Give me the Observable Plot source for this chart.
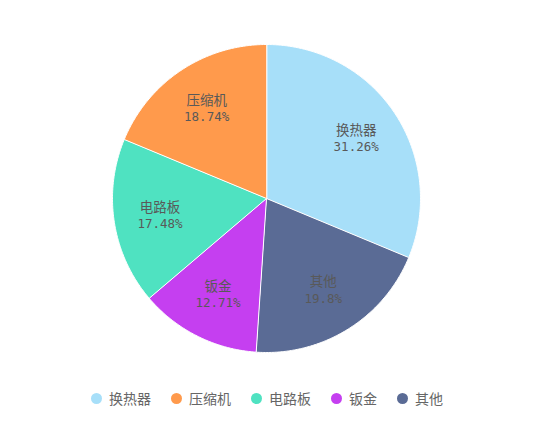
<!DOCTYPE html>
<html><head><meta charset="utf-8">
<script src="https://cdn.jsdelivr.net/npm/d3@7"></script>
<script src="https://cdn.jsdelivr.net/npm/@observablehq/plot@0.6"></script>
<style>
body{margin:0;background:#fff;font-family:"Noto Sans CJK SC",sans-serif;}
#legend{display:flex;justify-content:center;align-items:center;height:36px;margin-top:0px;font-size:14px;color:#666;}
.item{display:flex;align-items:center;margin:0 10px;}
.sw{width:11px;height:11px;border-radius:50%;margin-right:7px;}
</style>
</head><body>
<div id="chart"></div>
<div id="legend"></div>
<script>
const categories = ["换热器", "压缩机", "电路板", "钣金", "其他"];
const values = [31.26, 18.74, 17.48, 12.71, 19.8];
const labels = ["31.26%", "18.74%", "17.48%", "12.71%", "19.8%"];
const colors = ["#a7dff9", "#ff9a4c", "#4fe2c1", "#c53ff0", "#5a6b95"];
// clockwise drawing order from 12 o'clock
const drawOrder = ["换热器", "其他", "钣金", "电路板", "压缩机"];

const rows = drawOrder.map(c => {const i = categories.indexOf(c); return {cat: c, value: values[i], label: labels[i]};});
const total = d3.sum(rows, d => d.value);
let acc = 0;
const slices = rows.map(d => {
  const a0 = acc / total * 2 * Math.PI; acc += d.value;
  const a1 = acc / total * 2 * Math.PI;
  const n = Math.max(2, Math.ceil((a1 - a0) / 0.01));
  const ring = [[0, 0]];
  for (let k = 0; k <= n; k++) { const a = a0 + (a1 - a0) * k / n; ring.push([Math.sin(a), Math.cos(a)]); }
  ring.push([0, 0]);
  const am = (a0 + a1) / 2;
  return {type: "Feature", properties: {cat: d.cat, label: d.label, lx: 0.7 * Math.sin(am), ly: 0.7 * Math.cos(am)}, geometry: {type: "Polygon", coordinates: [ring]}};
});

const W = 534, H = 380;
const chart = Plot.plot({
  width: W, height: H,
  marginLeft: 112, marginRight: 114, marginTop: 44, marginBottom: 28,
  projection: {type: "reflect-y", domain: {type: "MultiPoint", coordinates: [[-1, -1], [1, 1]]}},
  color: {domain: categories, range: colors},
  marks: [
    Plot.geo(slices, {fill: d => d.properties.cat, stroke: "#fff", strokeWidth: 1}),
    Plot.text(slices, {x: d => d.properties.lx, y: d => d.properties.ly, text: d => d.properties.cat, dy: -8, fill: "#595959", fontSize: 13.5, fontFamily: "Noto Sans CJK SC"}),
    Plot.text(slices, {x: d => d.properties.lx, y: d => d.properties.ly, text: d => d.properties.label, dy: 8.5, fill: "#595959", fontSize: 12.5, fontFamily: "DejaVu Sans Mono"})
  ]
});
document.getElementById("chart").appendChild(chart);
const lg = document.getElementById("legend");
categories.forEach((c, i) => {
  const it = document.createElement("div"); it.className = "item";
  const sw = document.createElement("div"); sw.className = "sw"; sw.style.background = colors[i];
  const t = document.createElement("span"); t.textContent = c;
  it.appendChild(sw); it.appendChild(t); lg.appendChild(it);
});
</script>
</body></html>
